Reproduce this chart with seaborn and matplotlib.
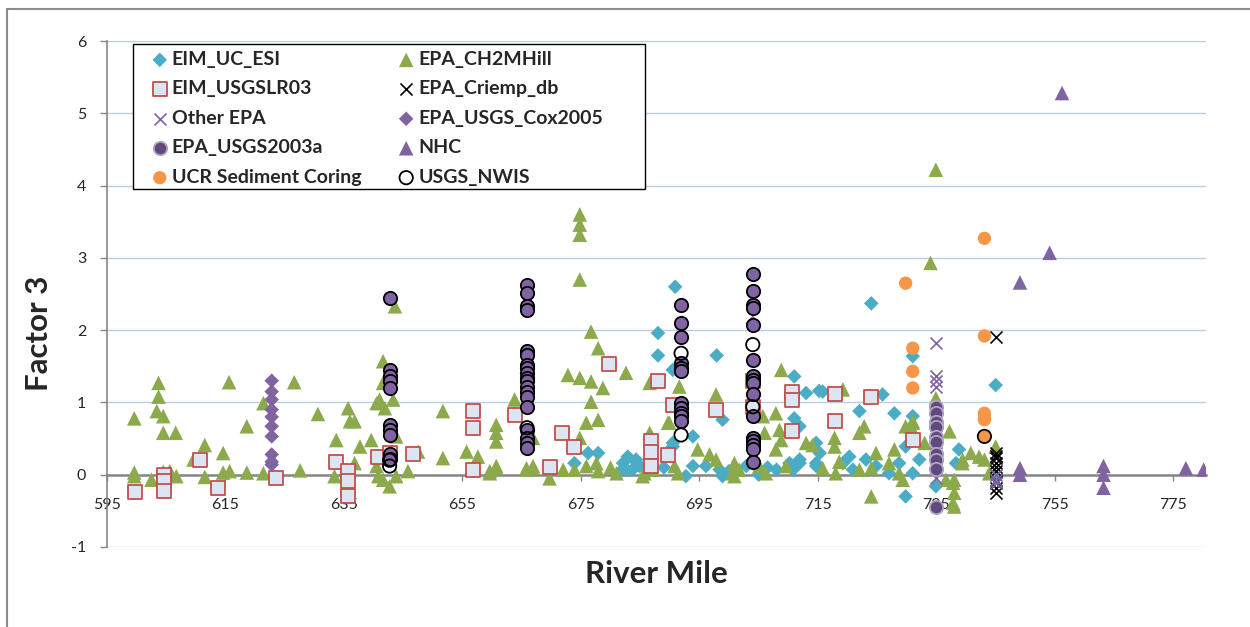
import matplotlib
matplotlib.use("Agg")
import matplotlib.pyplot as plt
from matplotlib.lines import Line2D
from matplotlib.patches import Rectangle
import seaborn as sns
import pandas as pd

# ---------------- data: river mile vs. factor 3 score, by source ----------------
esi_mile = [673.9, 676.2, 677.9, 682.1, 682.0, 682.9, 684.3, 683.7, 684.9, 682.7, 684.3, 686.5, 689.0,
            688.0, 688.0, 690.9, 697.9, 690.5, 690.5, 690.5, 693.9, 698.9, 692.7, 693.9, 696.1, 698.4, 698.9,
            700.0, 702.9, 705.0, 706.5, 708.0, 710.2, 710.8, 711.0, 711.0, 711.9, 711.9, 711.9, 713.0, 714.7,
            714.7, 714.7, 715.2,
            715.3, 715.8, 719.2, 720.3, 720.9, 722.0, 723.1, 724.0, 724.8, 725.9, 727.0, 727.9, 728.7, 729.8,
            729.8, 731.0, 731.0, 731.0, 732.1, 734.9, 738.3, 738.8, 745.0, 745.0]
esi_f3 = [0.16, 0.30, 0.30, 0.16, 0.07, 0.25, 0.18, 0.07, 0.12, 0.07, 0.21, 0.05, 0.10,
          1.96, 1.65, 2.60, 1.65, 1.45, 0.39, 0.44, 0.53, 0.76, -0.02, 0.12, 0.12, 0.07, -0.02,
          0.05, 0.12, 0.00, 0.10, 0.07, 0.16, 0.07, 1.36, 0.78, 0.67, 0.16, 0.21, 1.13, 0.12,
          0.16, 0.44, 1.16,
          0.30, 1.15, 0.16, 0.25, 0.07, 0.88, 0.21, 2.37, 0.12, 1.11, 0.02, 0.85, 0.16, 0.39,
          -0.30, 0.81, 1.64, 0.02, 0.21, -0.16, 0.16, 0.35, 1.24, -0.03]

ch2m_mile = [599.6, 599.6, 599.6, 602.5, 603.4, 603.7, 603.7, 604.5, 604.5, 604.5, 605.6, 606.6, 606.7,
             609.6, 611.5, 611.5, 614.6, 614.6, 615.6, 615.7, 618.6, 618.6, 621.4, 621.4, 626.6, 627.6,
             630.6, 633.4, 633.7,
             635.7, 636.0, 636.8, 636.8, 637.7, 639.6, 640.5, 640.5, 640.8, 641.0, 641.6, 641.6, 641.6,
             641.9, 642.7, 643.3, 643.6, 643.8, 643.8, 645.8, 647.5,
             651.7, 651.7, 655.7, 657.6, 659.6, 659.6, 660.7, 660.7, 660.7, 660.7, 660.7, 663.8, 665.8,
             665.8, 666.9, 666.9, 666.9, 669.7, 672.0, 672.8,
             673.9, 674.8, 674.8, 674.8, 674.8, 674.8, 674.8, 675.9, 675.9, 676.7, 676.7, 676.7, 677.6,
             677.9, 677.9, 677.9, 678.7, 680.0, 681.0, 682.6,
             685.4, 685.7, 686.6, 686.6, 687.1, 689.7, 689.9, 690.8, 691.4, 691.6, 691.9, 694.7, 696.7,
             697.8, 697.8,
             700.6, 700.9, 700.9, 701.7, 705.1, 705.7, 706.0, 706.2, 707.9, 707.9, 708.5, 708.8, 708.8,
             709.6, 713.0, 714.1,
             715.8, 717.8, 717.8, 718.0, 718.6, 719.2, 722.0, 722.0, 722.8, 724.0, 724.0, 724.8, 727.0,
             727.9, 728.7, 729.3, 729.8, 730.7, 731.0, 731.0, 733.0,
             734.0, 734.9, 734.9, 736.6, 737.2, 737.8, 737.8, 738.0, 738.0, 738.0, 739.4, 739.4, 740.8,
             742.2, 743.1, 743.9, 745.0]
ch2m_f3 = [0.78, 0.03, -0.02, -0.07, 0.88, 1.27, 1.08, 0.81, 0.58, 0.04, 0.05, 0.58, -0.02,
           0.21, 0.41, -0.03, 0.30, 0.03, 1.28, 0.05, 0.67, 0.03, 0.99, 0.02, 1.28, 0.06,
           0.84, -0.02, 0.48,
           0.92, 0.74, 0.74, 0.16, 0.39, 0.48, 0.99, 0.12, -0.02, 1.04, 1.57, 1.27, -0.07,
           0.92, -0.16, 1.04, 2.33, -0.02, 0.53, 0.05, 0.32,
           0.88, 0.23, 0.32, 0.25, 0.05, 0.02, 0.69, 0.58, 0.46, 0.12, 0.09, 1.04, 0.09,
           0.07, 0.51, 0.12, 0.09, -0.05, 0.07, 1.38,
           0.07, 1.34, 3.60, 3.46, 3.32, 2.70, 0.51, 0.72, 0.12, 1.98, 1.29, 1.01, 0.16,
           1.75, 0.76, 0.05, 1.20, 0.10, 0.02, 1.41,
           -0.02, 0.02, 1.27, 0.58, 0.07, 0.72, 0.72, 0.12, 0.02, 1.22, 0.94, 0.35, 0.28,
           0.21, 1.11,
           0.02, 0.16, -0.02, 0.07, 0.12, 0.81, 0.58, 0.02, 0.85, 0.35, 0.62, 0.48, 1.45,
           0.12, 0.44, 0.41,
           0.09, 0.51, 0.39, 0.02, 0.18, 1.18, 0.58, 0.07, 0.67, -0.30, 0.09, 0.30, 0.16,
           0.35, 0.02, -0.07, 0.67, 0.67, 0.74, 0.72, 0.44,
           2.93, 4.22, 1.06, -0.07, 0.60, -0.11, -0.39, -0.07, -0.25, -0.44, 0.16, 0.21, 0.30,
           0.25, 0.21, 0.02, 0.39]

lr03_mile = [599.7, 604.6, 604.6, 604.6, 610.7, 613.7, 623.6, 633.7, 635.6, 635.6, 635.6, 640.8, 642.7,
             646.7, 656.8, 656.8, 656.8, 663.8, 669.8, 671.8, 673.9, 679.8, 686.8, 686.8, 686.8, 688.0,
             689.7, 690.5, 697.8, 704.0, 704.0, 710.7, 710.7, 710.7, 717.8, 717.8, 724.0, 731.0]
lr03_f3 = [-0.24, -0.01, -0.09, -0.22, 0.21, -0.18, -0.05, 0.18, 0.05, -0.09, -0.30, 0.25, 0.30,
           0.28, 0.88, 0.65, 0.07, 0.82, 0.10, 0.58, 0.38, 1.53, 0.46, 0.32, 0.12, 1.30,
           0.27, 0.97, 0.90, 1.29, 0.93, 1.15, 1.04, 0.60, 1.12, 0.74, 1.07, 0.48]

criemp_mile = [745.0] * 11
criemp_f3 = [1.91, 0.30, 0.26, 0.23, 0.16, 0.10, 0.05, -0.07, -0.12, -0.18, -0.25]

other_mile = [734.9] * 7 + [745.0] * 3
other_f3 = [1.82, 1.36, 1.29, 1.22, 0.30, 0.10, -0.05, 0.00, -0.07, -0.11]

cox_mile = [622.8] * 10 + [704.0]
cox_f3 = [1.30, 1.15, 1.04, 0.90, 0.80, 0.67, 0.53, 0.28, 0.18, 0.14, 2.10]

# station profiles sampled at the four gauging sites
station_mile = [642.7] * 10 + [665.9] * 19 + [691.9] * 11 + [704.0] * 16
station_f3 = [2.45, 1.45, 1.36, 1.29, 1.20, 0.69, 0.62, 0.55, 0.28, 0.22,
              2.63, 2.51, 2.33, 2.28, 1.71, 1.66, 1.52, 1.48, 1.41, 1.34, 1.29, 1.22, 1.15, 1.08,
              0.94, 0.62, 0.51, 0.44, 0.37,
              2.35, 2.10, 1.90, 1.54, 1.48, 1.43, 0.99, 0.92, 0.85, 0.81, 0.74,
              2.77, 2.54, 2.35, 2.31, 2.07, 1.59, 1.36, 1.31, 1.27, 1.11, 0.81, 0.51, 0.46, 0.41,
              0.35, 0.18]

usgs03_mile = [734.9] * 10
usgs03_f3 = [0.93, 0.86, 0.73, 0.66, 0.52, 0.45, 0.28, 0.20, 0.08, -0.44]

nhc_mile = [749.1, 749.1, 749.1, 754.1, 756.2, 763.2, 763.2, 763.2, 777.1, 780.1]
nhc_f3 = [2.66, 0.09, 0.00, 3.07, 5.28, 0.12, 0.00, -0.18, 0.09, 0.07]

ucr_mile = [729.8, 731.0, 731.0, 731.0, 743.1, 743.1, 743.1, 743.1, 743.1, 743.1]
ucr_f3 = [2.65, 1.75, 1.43, 1.20, 3.27, 1.92, 0.85, 0.80, 0.76, 0.53]

nwis_mile = [642.7, 642.7, 665.9, 691.9, 691.9, 704.0, 704.0, 743.1]
nwis_f3 = [0.12, 0.20, 0.65, 1.68, 0.55, 1.80, 0.94, 0.53]

x_ticks = [595, 615, 635, 655, 675, 695, 715, 735, 755, 775]
y_ticks = [-1, 0, 1, 2, 3, 4, 5, 6]

# ---------------- styling ----------------
sns.set_theme(style="white")
plt.rcParams["font.family"] = ["Lato", "DejaVu Sans"]
plt.rcParams["axes.unicode_minus"] = False

W, H = 1250, 627
fig = plt.figure(figsize=(W / 100, H / 100), dpi=100)
ax = fig.add_axes([107 / W, 1 - 547 / H, (1206 - 107) / W, (547 - 41) / H])

series = [
    ("EIM_UC_ESI", esi_mile, esi_f3, dict(marker="D", s=55, color="#4BACC6", edgecolor="none")),
    ("EPA_CH2MHill", ch2m_mile, ch2m_f3, dict(marker="^", s=110, color="#8CAA4B", edgecolor="none")),
    ("EIM_USGSLR03", lr03_mile, lr03_f3, dict(marker="s", s=95, facecolor="#DCE6F2", edgecolor="#C0504D", linewidth=1.3)),
    ("EPA_Criemp_db", criemp_mile, criemp_f3, dict(marker="x", s=75, color="black", linewidth=1.2)),
    ("Other EPA", other_mile, other_f3, dict(marker="x", s=75, color="#8064A2", linewidth=1.2)),
    ("EPA_USGS_Cox2005", cox_mile, cox_f3, dict(marker="D", s=55, color="#8064A2", edgecolor="none")),
    ("_nolegend_", station_mile, station_f3, dict(marker="o", s=92, facecolor="#8064A2", edgecolor="black", linewidth=1.3)),
    ("EPA_USGS2003a", usgs03_mile, usgs03_f3, dict(marker="o", s=92, facecolor="#604A7B", edgecolor="#B3A2C7", linewidth=1.3)),
    ("NHC", nhc_mile, nhc_f3, dict(marker="^", s=110, color="#8064A2", edgecolor="none")),
    ("UCR Sediment Coring", ucr_mile, ucr_f3, dict(marker="o", s=92, color="#F79646", edgecolor="none")),
    ("USGS_NWIS", nwis_mile, nwis_f3, dict(marker="o", s=92, facecolor="none", edgecolor="black", linewidth=1.3)),
]

handles = {}
for i, (name, miles, vals, style) in enumerate(series):
    df = pd.DataFrame({"River Mile": miles, "Factor 3": vals})
    sns.scatterplot(data=df, x="River Mile", y="Factor 3", ax=ax, zorder=3 + i, legend=False, **style)
    handles[name] = ax.collections[-1]

# axes
ax.set_xlim(595, 780.5)
ax.set_ylim(-1, 6)
ax.set_xticks(x_ticks)
ax.set_yticks(y_ticks)
ax.set_axisbelow(True)
ax.yaxis.grid(True, color="#B9CDE5", linewidth=1.0)
ax.xaxis.grid(False)
for side in ("top", "right"):
    ax.spines[side].set_visible(False)
ax.spines["left"].set_color("#868686")
ax.spines["left"].set_linewidth(1.2)
ax.spines["bottom"].set_position(("data", 0))
ax.spines["bottom"].set_color("#868686")
ax.spines["bottom"].set_linewidth(1.8)
ax.spines["bottom"].set_zorder(2.5)
ax.tick_params(axis="x", direction="out", length=4, width=1, color="#868686",
               labelsize=11.5, pad=13, bottom=True)
ax.tick_params(axis="y", direction="out", length=5, width=1, color="#868686",
               labelsize=11.5, pad=10, left=True)
ax.set_xlabel("River Mile", fontsize=22.5, fontweight="bold", labelpad=0)
ax.xaxis.set_label_coords(0.5, -0.025)
ax.set_ylabel("Factor 3", fontsize=22.5, fontweight="bold")
ax.yaxis.set_label_coords(-0.049, 0.423)

# legend laid out column by column, inside a fixed box
order = ["EIM_UC_ESI", "EIM_USGSLR03", "Other EPA", "EPA_USGS2003a", "UCR Sediment Coring",
         "EPA_CH2MHill", "EPA_Criemp_db", "EPA_USGS_Cox2005", "NHC", "USGS_NWIS"]
leg = ax.legend([handles[k] for k in order], order, ncol=2, loc="upper left",
                bbox_to_anchor=(152 / W, 1 - 51 / H), bbox_transform=fig.transFigure,
                borderaxespad=0, borderpad=0, frameon=False,
                prop={"weight": "bold", "size": 14},
                handlelength=0.8, handletextpad=0.22, columnspacing=1.9,
                labelspacing=0.64, markerscale=1.0, scatterpoints=1)
leg.set_zorder(20)
ax.add_artist(Rectangle((133 / W, 1 - 189 / H), (645 - 133) / W, (189 - 44) / H,
                        transform=fig.transFigure, facecolor="white", edgecolor="black",
                        linewidth=1.0, zorder=19, clip_on=False))

# chart-area border
fig.add_artist(Line2D([7 / W, 7 / W], [0, 1 - 9 / H], transform=fig.transFigure, color="#8C8C8C", lw=1.5))
fig.add_artist(Line2D([7 / W, 1], [1 - 9 / H, 1 - 9 / H], transform=fig.transFigure, color="#8C8C8C", lw=1.5))

fig.savefig("out.png", dpi=100, facecolor="white")
